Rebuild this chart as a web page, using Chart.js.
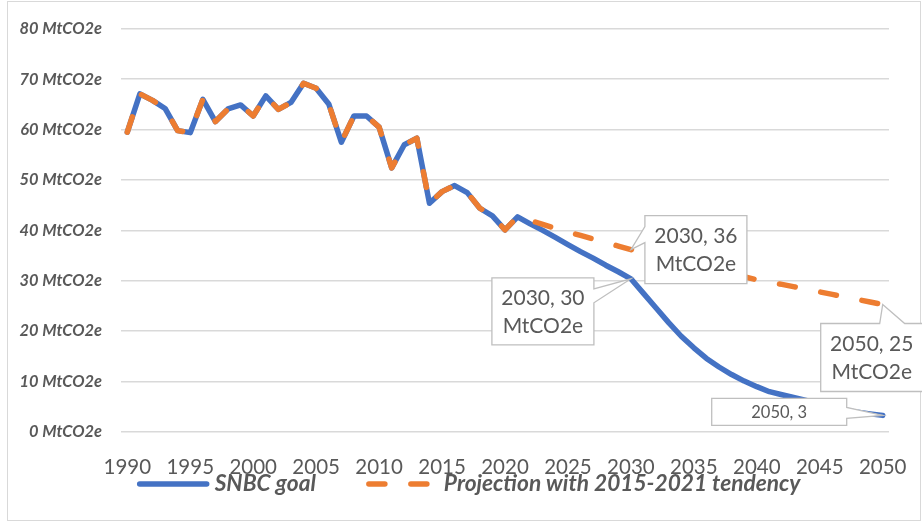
<!DOCTYPE html>
<html>
<head>
<meta charset="utf-8">
<title>SNBC goal vs projection</title>
<script src="https://cdn.jsdelivr.net/npm/chart.js@4.4.1/dist/chart.umd.min.js"></script>
<style>
  html, body { margin: 0; padding: 0; background: #fff; }
  canvas { display: block; }
</style>
</head>
<body>
<canvas id="chart" width="922" height="522"></canvas>
<script>
// categories
const years = [
  1990, 1991, 1992, 1993, 1994, 1995, 1996, 1997, 1998, 1999,
  2000, 2001, 2002, 2003, 2004, 2005, 2006, 2007, 2008, 2009,
  2010, 2011, 2012, 2013, 2014, 2015, 2016, 2017, 2018, 2019,
  2020, 2021, 2022, 2023, 2024, 2025, 2026, 2027, 2028, 2029,
  2030, 2031, 2032, 2033, 2034, 2035, 2036, 2037, 2038, 2039,
  2040, 2041, 2042, 2043, 2044, 2045, 2046, 2047, 2048, 2049,
  2050
];
const xTickLabels = ['1990', '1995', '2000', '2005', '2010', '2015', '2020', '2025', '2030', '2035', '2040', '2045', '2050'];
const yTickValues = [0, 10, 20, 30, 40, 50, 60, 70, 80];
const unit = 'MtCO2e';

// measured emissions 1990-2021 (shared by both series)
const historical = [
  59.5, 67.1, 65.8, 64.2, 59.8, 59.4, 66.0, 61.6, 64.1, 64.9,
  62.7, 66.7, 64.0, 65.4, 69.2, 68.2, 65.1, 57.5, 62.7, 62.7,
  60.5, 52.4, 57.0, 58.3, 45.4, 47.7, 48.9, 47.5, 44.4, 42.9,
  40.1, 42.7
];
// 2022-2050
const snbcFuture = [
  41.3, 40.0, 38.6, 37.2, 35.8, 34.5, 33.1, 31.8, 30.4,
  27.5, 24.6, 21.7, 19.0, 16.7, 14.6, 12.9, 11.4, 10.1,
  9.0, 8.0, 7.4, 6.8, 6.2, 5.6, 5.0, 4.4, 3.9, 3.6, 3.3
];
const projectionFuture = [
  42.0, 41.2, 40.4, 39.7, 39.0, 38.3, 37.6, 36.9, 36.2,
  35.6, 35.0, 34.4, 33.8, 33.2, 32.6, 32.0, 31.4, 30.8,
  30.2, 29.7, 29.3, 28.8, 28.3, 27.8, 27.3, 26.8, 26.3, 25.8, 25.3
];
const seriesNames = ['SNBC goal', 'Projection with 2015-2021 tendency'];

// which points get a callout label, and whether the unit is printed
const callouts = [
  { series: 1, year: 2030, withUnit: true },
  { series: 0, year: 2030, withUnit: true },
  { series: 1, year: 2050, withUnit: true },
  { series: 0, year: 2050, withUnit: false }
];

const textColor = '#595959';

// box placement relative to the point, tail side and tail base (from box corner)
const calloutStyle = [
  { dx: 14, dy: -34, w: 102, h: 68, side: 'left', a: 11, b: 27, size: 21 },
  { dx: -139, dy: -1, w: 102, h: 67, side: 'right', a: 11, b: 25, size: 21 },
  { dx: -62, dy: 19, w: 102, h: 68, side: 'top', a: 59, b: 84, size: 21 },
  { dx: -171, dy: -17, w: 135, h: 27, side: 'right', a: 9, b: 20, size: 16.5 }
];

const framePlugin = {
  id: 'frame',
  beforeDraw(chart) {
    const ctx = chart.ctx;
    ctx.save();
    ctx.fillStyle = '#fff';
    ctx.fillRect(0, 0, chart.width, chart.height);
    ctx.strokeStyle = '#d9d9d9';
    ctx.lineWidth = 1;
    ctx.strokeRect(7.5, 1.5, 913, 519);
    ctx.restore();
  }
};

const calloutPlugin = {
  id: 'callouts',
  afterDatasetsDraw(chart) {
    const ctx = chart.ctx;
    callouts.forEach((c, k) => {
      const s = calloutStyle[k];
      const idx = years.indexOf(c.year);
      const pt = chart.getDatasetMeta(c.series).data[idx];
      const value = chart.data.datasets[c.series].data[idx];
      const px = pt.x, py = pt.y;
      const x = px + s.dx, y = py + s.dy, w = s.w, h = s.h;

      ctx.save();
      ctx.beginPath();
      ctx.moveTo(x, y);
      if (s.side === 'top') {
        ctx.lineTo(x + s.a, y);
        ctx.lineTo(px, py);
        ctx.lineTo(x + s.b, y);
      }
      ctx.lineTo(x + w, y);
      if (s.side === 'right') {
        ctx.lineTo(x + w, y + s.a);
        ctx.lineTo(px, py);
        ctx.lineTo(x + w, y + s.b);
      }
      ctx.lineTo(x + w, y + h);
      ctx.lineTo(x, y + h);
      if (s.side === 'left') {
        ctx.lineTo(x, y + s.b);
        ctx.lineTo(px, py);
        ctx.lineTo(x, y + s.a);
      }
      ctx.closePath();
      ctx.fillStyle = '#fff';
      ctx.fill();
      ctx.strokeStyle = '#bfbfbf';
      ctx.lineWidth = 1.3;
      ctx.lineJoin = 'miter';
      ctx.stroke();

      const lines = [c.year + ', ' + Math.round(value)];
      if (c.withUnit) lines.push(unit);
      ctx.fillStyle = textColor;
      ctx.font = s.size + 'px Lato';
      ctx.textAlign = 'center';
      ctx.textBaseline = 'middle';
      const lh = 28;
      lines.forEach((line, i) => {
        ctx.fillText(line, x + w / 2, y + h / 2 + (i - (lines.length - 1) / 2) * lh + 1);
      });
      ctx.restore();
    });
  }
};

const legendPlugin = {
  id: 'lineLegend',
  afterDraw(chart) {
    const ctx = chart.ctx;
    const swatch = 67, gap = 8, spacing = 53, centerX = 470, ly = 484;
    ctx.save();
    ctx.font = 'italic bold 22.7px Lato';
    const items = chart.data.datasets;
    const widths = items.map(ds => swatch + gap + ctx.measureText(ds.label).width);
    const total = widths.reduce((a, b) => a + b, 0) + spacing * (items.length - 1);
    let x = centerX - total / 2;
    items.forEach((ds, k) => {
      ctx.beginPath();
      ctx.strokeStyle = ds.borderColor;
      ctx.lineWidth = ds.borderWidth;
      ctx.lineCap = 'round';
      ctx.setLineDash(ds.borderDash || []);
      ctx.moveTo(x, ly);
      ctx.lineTo(x + swatch, ly);
      ctx.stroke();
      ctx.setLineDash([]);
      ctx.fillStyle = textColor;
      ctx.textAlign = 'left';
      ctx.textBaseline = 'middle';
      ctx.fillText(ds.label, x + swatch + gap, ly);
      x += widths[k] + spacing;
    });
    ctx.restore();
  }
};

new Chart(document.getElementById('chart'), {
  type: 'line',
  data: {
    labels: years,
    datasets: [
      {
        label: seriesNames[0],
        data: historical.concat(snbcFuture),
        borderColor: '#4472C4',
        borderWidth: 5.5,
        borderCapStyle: 'round',
        borderJoinStyle: 'round',
        pointRadius: 0,
        tension: 0,
        order: 1
      },
      {
        label: seriesNames[1],
        data: historical.concat(projectionFuture),
        borderColor: '#ED7D31',
        borderWidth: 5.5,
        borderDash: [16, 26],
        borderCapStyle: 'round',
        borderJoinStyle: 'round',
        pointRadius: 0,
        tension: 0,
        order: 0
      }
    ]
  },
  options: {
    responsive: false,
    animation: false,
    events: [],
    layout: { padding: { left: 8, right: 33, top: 26, bottom: 38 } },
    plugins: {
      legend: { display: false },
      tooltip: { enabled: false }
    },
    scales: {
      x: {
        type: 'category',
        offset: true,
        grid: { display: false },
        border: { display: false },
        ticks: {
          autoSkip: false,
          maxRotation: 0,
          minRotation: 0,
          padding: 15,
          color: textColor,
          font: { family: 'Lato', size: 20.5 },
          callback: (val, i) => xTickLabels.includes(String(years[i])) ? String(years[i]) : ''
        },
        afterFit: axis => { axis.height = 52; }
      },
      y: {
        min: 0,
        max: 80,
        grid: { color: '#d9d9d9', lineWidth: 1.5, drawTicks: false },
        border: { display: false },
        afterBuildTicks: axis => { axis.ticks = yTickValues.map(v => ({ value: v })); },
        ticks: {
          padding: 19,
          color: textColor,
          font: { family: 'Lato', size: 16.4, style: 'italic', weight: 'bold' },
          callback: v => v + ' ' + unit
        },
        afterFit: axis => { axis.width = 113; }
      }
    }
  },
  plugins: [framePlugin, calloutPlugin, legendPlugin]
});
</script>
</body>
</html>
